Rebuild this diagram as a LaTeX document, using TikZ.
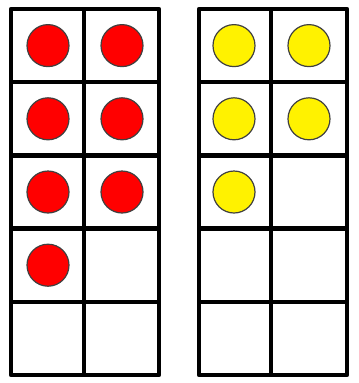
\documentclass[tikz,border=0pt]{standalone}
\begin{document}
\begin{tikzpicture}[x=0.75pt,y=-0.75pt,line cap=round,line join=round]
 \tikzset{frame/.style={line width=3.4pt,line cap=rect},
  counter/.style={draw=black!75,line width=0.9pt}}
 \useasboundingbox (0,0) rectangle (359,383);
 % counters
 \foreach \x/\y in {48/45.6,122/45.6,48/118.8,122/118.8,48/192,122/192,48/265.2}
  \draw[counter,fill=red] (\x,\y) circle[radius=15.75pt];
 \foreach \x/\y in {234/45.6,309/45.6,234/118.8,309/118.8,234/192}
  \draw[counter,fill=yellow] (\x,\y) circle[radius=15.75pt];
 % ten frames
 \foreach \l/\m/\r in {11/84/159,199/271/347}{
  \draw[frame] (\l,9) rectangle (\r,375);
  \draw[frame] (\m,9) -- (\m,375);
  \foreach \y in {82.2,155.4,228.6,301.8}
   \draw[frame] (\l,\y) -- (\r,\y);
 }
\end{tikzpicture}
\end{document}
